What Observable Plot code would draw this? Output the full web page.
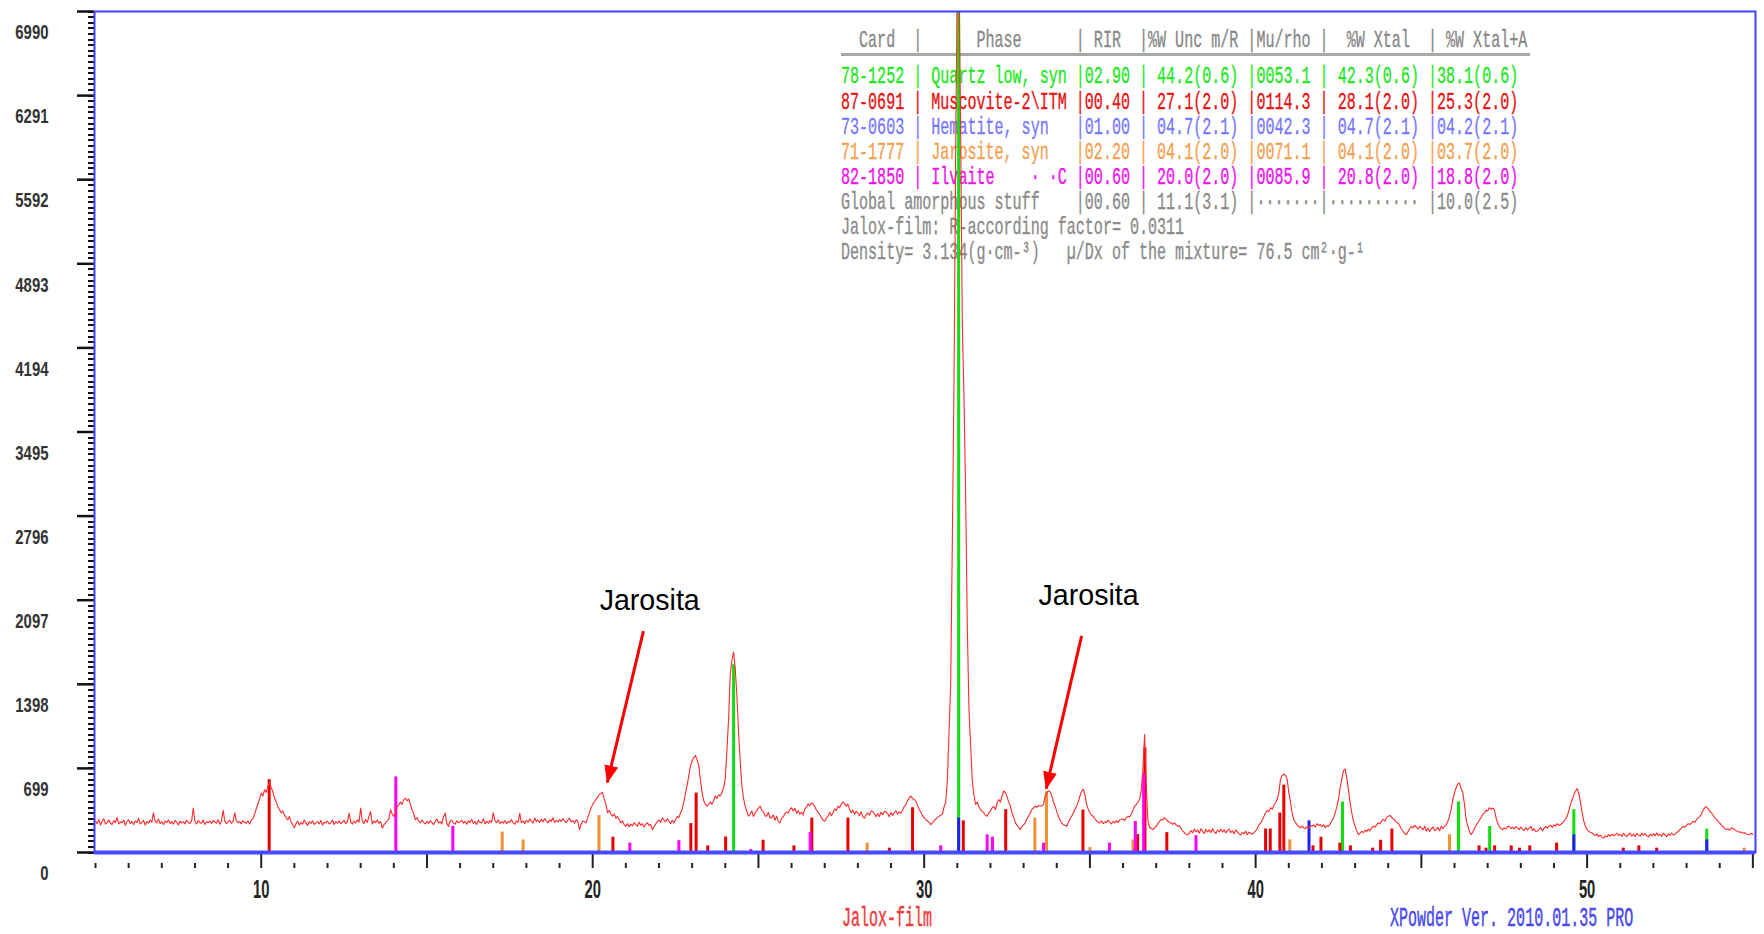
<!DOCTYPE html>
<html><head><meta charset="utf-8">
<script src="https://cdn.jsdelivr.net/npm/d3@7"></script>
<script src="https://cdn.jsdelivr.net/npm/@observablehq/plot@0.6"></script>
<style>
html,body{margin:0;padding:0;background:#fff;}
#wrap{position:relative;width:1764px;height:934px;overflow:hidden;background:#fff;}
.row{position:absolute;left:841px;white-space:pre;font-family:"Liberation Mono",monospace;font-size:24px;line-height:25px;height:25px;transform:scaleX(0.627);transform-origin:0 0;-webkit-text-stroke:0.35px currentColor;}
#rule{position:absolute;left:841px;top:53px;width:689px;height:3px;background:#a8a8a8;}
.foot{position:absolute;white-space:pre;font-family:"Liberation Mono",monospace;font-size:27px;line-height:30px;height:30px;transform:scaleX(0.556);transform-origin:0 0;-webkit-text-stroke:0.5px currentColor;}
#chart{position:absolute;left:0;top:0;}
</style></head>
<body><div id="wrap"></div>
<script>
// ---------- data ----------
// measured pattern: 2theta start/step of the scan and the counts read off the picture
const twoThetaStart = 5.0;
const twoThetaStep = 0.05;
const counts = [
// 5
262,240,275,228,258,281,236,250,270,245,232,265,248,290,238,255,247,268,226,259,
// 6
272,241,256,233,262,249,284,237,251,266,229,258,244,270,252,330,261,247,279,240,
// 7
255,233,262,248,271,240,258,236,266,252,229,261,244,257,238,268,250,241,263,370,
// 8
258,237,265,250,243,270,232,256,248,261,239,266,252,244,273,235,258,350,262,240,
// 9
255,268,243,258,330,262,247,259,238,265,250,244,261,236,270,282,318,362,405,445,
// 10
493,470,521,500,549,585,540,505,450,424,380,355,330,345,313,290,272,300,255,230,
// 11
205,240,262,228,250,236,270,244,226,258,241,264,232,249,255,238,267,229,252,246,
// 12
260,237,248,271,233,256,244,262,239,253,268,241,255,327,250,236,262,245,271,252,
// 13
369,262,240,275,250,300,340,236,264,248,270,243,258,202,230,246,262,280,355,320,
// 14
300,330,380,396,420,400,440,452,430,445,400,355,320,272,290,262,245,270,250,238,
// 15
258,242,266,249,231,260,277,245,256,238,300,327,240,216,262,268,245,236,263,248,
// 16
255,270,243,258,236,264,249,275,241,257,233,268,252,246,279,238,260,244,265,251,
// 17
330,262,248,271,240,256,244,266,238,259,250,273,246,235,261,252,325,247,263,240,
// 18
268,252,279,261,244,286,258,270,249,276,255,283,262,246,273,259,288,250,267,255,
// 19
274,258,281,262,247,270,285,254,266,243,272,259,190,235,262,255,246,290,330,370,
// 20
400,420,442,460,484,490,498,442,400,330,350,320,302,320,285,300,274,246,262,230,
// 21
218,240,213,236,222,248,230,218,252,226,240,211,235,247,224,232,190,214,236,258,
// 22
270,250,288,270,255,280,262,240,268,246,275,300,290,330,360,420,498,560,640,722,
// 23
760,790,806,770,722,600,498,430,400,386,400,420,400,430,470,450,480,470,498,540,
// 24
610,850,1114,1478,1600,1665,1530,1300,1002,760,554,450,386,340,302,320,345,300,330,350,
// 25
370,386,352,340,306,302,334,286,290,312,268,302,258,246,284,298,324,336,330,358,
// 26
372,345,368,326,348,318,336,312,362,378,404,388,414,402,382,352,336,314,292,268,
// 27
260,288,302,334,306,330,362,348,386,372,402,420,406,384,402,358,330,352,318,342,
// 28
330,306,338,298,286,314,330,310,348,340,322,298,324,300,334,314,342,338,322,298,
// 29
332,308,334,346,318,338,326,352,384,398,432,454,470,446,442,426,392,358,334,306,
// 30
290,272,262,248,232,246,264,278,292,300,312,318,380,420,600,1000,1400,2600,3900,5800,
// 31
7300,7300,6000,4400,3800,3000,1900,1200,900,600,480,400,420,380,358,340,330,310,302,330,
// 32
345,372,384,356,412,440,418,472,512,498,462,418,388,328,292,248,228,212,190,216,
// 33
230,246,280,300,330,358,370,386,376,390,384,388,400,470,498,512,505,470,420,386,
// 34
340,300,270,246,230,225,218,250,280,302,330,360,386,420,470,510,526,480,400,360,
// 35
330,310,302,280,265,250,246,262,240,255,248,270,250,238,258,246,265,250,272,274,
// 36
280,265,290,302,295,320,350,386,400,420,442,520,700,980,560,260,210,200,190,205,
// 37
218,240,260,275,270,288,275,262,250,246,235,246,230,218,225,200,180,165,150,148,
// 38
160,182,164,195,172,186,160,198,176,158,194,170,188,164,198,172,158,186,172,194,
// 39
170,188,162,184,194,166,180,156,188,172,154,146,168,154,178,148,170,158,152,166,
// 40
180,200,230,246,270,300,330,350,340,372,360,390,414,440,498,610,640,652,640,610,
// 41
500,420,330,274,250,230,218,205,220,204,198,215,205,225,218,230,210,240,225,232,
// 42
215,230,205,225,218,240,262,288,330,380,442,540,610,680,694,620,520,414,330,260,
// 43
218,180,148,160,175,165,185,176,195,180,205,218,210,232,245,238,260,275,262,290,
// 44
300,308,295,280,270,250,246,220,195,175,155,148,175,200,218,205,225,210,195,218,
// 45
204,188,218,178,202,174,198,212,182,192,208,180,218,198,218,230,260,302,360,440,
// 46
498,540,570,577,530,498,400,274,220,175,148,170,200,225,246,270,290,316,330,350,
// 47
345,372,360,370,358,290,246,215,200,190,205,195,215,218,200,210,195,215,205,190,
// 48
212,194,182,208,188,202,218,182,198,174,178,192,208,180,202,218,202,220,226,208,
// 49
230,218,240,225,232,245,260,280,302,350,400,442,480,510,532,490,414,330,260,218,
// 50
190,175,168,162,150,140,155,132,145,125,120,138,130,148,135,152,140,148,160,142,
// 51
152,134,160,142,132,150,162,136,154,132,158,146,136,162,142,158,138,130,152,140,
// 52
157,138,162,142,152,134,160,146,132,154,143,162,146,152,165,175,190,205,218,210,
// 53
225,240,232,246,260,250,275,288,300,320,350,372,381,360,345,330,310,290,275,260,
// 54
245,230,215,200,190,198,185,205,200,190,180,175,168,170,160,165,155,150,148,160,
// 55
150
];

// reference patterns (stick positions in 2theta, stick heights in counts)
const quartz2Theta = [24.25, 31.04, 42.62, 46.12, 47.06, 49.6, 53.61];
const quartzCounts = [1560, 7200, 420, 420, 216, 356, 194];
const muscovite2Theta = [10.24, 20.61, 22.96, 23.12, 23.47, 24.01, 25.14, 26.07, 26.61, 27.7, 28.95, 29.65, 31.18, 32.46, 34.79, 36.44, 36.66, 37.32, 40.3, 40.44, 40.73, 40.85, 41.73, 41.97, 42.54, 42.86, 43.53, 43.77, 44.11, 46.74, 46.95, 47.21, 47.71, 47.96, 48.27, 49.08, 51.09, 51.56, 52.1];
const muscoviteCounts = [605, 127, 240, 494, 55, 129, 102, 55, 286, 286, 36, 372, 263, 356, 353, 150, 870, 165, 195, 195, 328, 560, 55, 127, 78, 55, 36, 102, 195, 55, 36, 55, 55, 36, 55, 78, 36, 55, 36];
const jarosite2Theta = [17.27, 17.9, 20.19, 28.28, 33.34, 33.69, 35.0, 36.3, 41.03, 45.85, 54.74];
const jarositeCounts = [170, 104, 306, 78, 286, 504, 40, 104, 105, 147, 36];
const ilvaite2Theta = [14.06, 15.78, 21.12, 22.6, 24.77, 26.56, 30.5, 31.9, 32.06, 33.6, 35.59, 36.37, 36.62, 38.2];
const ilvaiteCounts = [628, 217, 78, 98, 25, 165, 56, 147, 128, 78, 78, 258, 655, 140];
const hematite2Theta = [31.04, 41.61, 49.6, 53.61];
const hematiteCounts = [286, 263, 147, 105];

// axis ticks
const xDomain = [4.97, 55.08];
const yDomain = [0, 6990];
const yTickValues = [0, 699, 1398, 2097, 2796, 3495, 4194, 4893, 5592, 6291, 6990];
const xTickLabels = [10, 20, 30, 40, 50];
const xMajorTicks = [10, 15, 20, 25, 30, 35, 40, 45, 50, 55];

// annotations
const noteText = ["Jarosita", "Jarosita"];
const note2Theta = [21.72, 34.96];
const noteCounts = [2094, 2136];
const arrowFrom2Theta = [21.53, 34.75];
const arrowFromCounts = [1840, 1800];
const arrowTo2Theta = [20.44, 33.68];
const arrowToCounts = [582, 530];

// quantitative table
const tableHeader = "  Card  |      Phase      | RIR  |%W Unc m/R |Mu/rho |  %W Xtal  | %W Xtal+A";
const tableRows = [
  "78-1252 | Quartz low, syn |02.90 | 44.2(0.6) |0053.1 | 42.3(0.6) |38.1(0.6)",
  "87-0691 | Muscovite-2\\ITM |00.40 | 27.1(2.0) |0114.3 | 28.1(2.0) |25.3(2.0)",
  "73-0603 | Hematite, syn   |01.00 | 04.7(2.1) |0042.3 | 04.7(2.1) |04.2(2.1)",
  "71-1777 | Jarosite, syn   |02.20 | 04.1(2.0) |0071.1 | 04.1(2.0) |03.7(2.0)",
  "82-1850 | Ilvaite    \u00b7 \u00b7C |00.60 | 20.0(2.0) |0085.9 | 20.8(2.0) |18.8(2.0)",
  "Global amorphous stuff    |00.60 | 11.1(3.1) |\u00b7\u00b7\u00b7\u00b7\u00b7\u00b7\u00b7|\u00b7\u00b7\u00b7\u00b7\u00b7\u00b7\u00b7\u00b7\u00b7\u00b7 |10.0(2.5)",
  "Jalox-film: R-according factor= 0.0311",
  "Density= 3.134(g\u00b7cm-\u00b3)   \u00b5/Dx of the mixture= 76.5 cm\u00b2\u00b7g-\u00b9"
];
const tableColors = ["#22e822", "#e81010", "#7878ff", "#f4a050", "#f010f0", "#8a8a8a", "#8a8a8a", "#8a8a8a"];
const sampleName = "Jalox-film";
const softwareName = "XPowder Ver. 2010.01.35 PRO";

// ---------- build ----------
const wrap = document.getElementById("wrap");

// table (behind the plot so that the peak lines run over it)
const head = document.createElement("div");
head.className = "row"; head.textContent = tableHeader;
head.style.top = "28.4px"; head.style.color = "#888";
wrap.appendChild(head);
const rule = document.createElement("div"); rule.id = "rule"; wrap.appendChild(rule);
tableRows.forEach((r, i) => {
  const d = document.createElement("div");
  d.className = "row"; d.textContent = r;
  d.style.top = (64.4 + i * 25.1) + "px";
  d.style.color = tableColors[i];
  wrap.appendChild(d);
});
const f1 = document.createElement("div");
f1.className = "foot"; f1.textContent = sampleName;
f1.style.left = "841.5px"; f1.style.top = "903.7px"; f1.style.color = "#f03c3c";
wrap.appendChild(f1);
const f2 = document.createElement("div");
f2.className = "foot"; f2.textContent = softwareName;
f2.style.left = "1390px"; f2.style.top = "903.7px"; f2.style.color = "#4848f0";
wrap.appendChild(f2);

const trace = counts.map((c, i) => ({x: twoThetaStart + i * twoThetaStep, y: c}));
const pairs = (p, c) => p.map((v, i) => ({x: v, y: c[i]}));
const sticks = (p, c, color) => Plot.ruleX(pairs(p, c), {x: "x", y1: 0, y2: "y", stroke: color, strokeWidth: 3, clip: true});

const W = 1764, H = 934, mL = 94, mR = 9, mT = 11, mB = 82;
const minorLen = (xDomain[1] - xDomain[0]) * 6 / (W - mL - mR); // 6px comb, in 2theta units
const yMinorTicks = d3.range(0, 6990.5, 699 / 15);
const xMinorTicks = d3.range(5, 55).filter(d => d === 5 || d % 5 !== 0);

const arrows = arrowFrom2Theta.map((v, i) => ({x1: v, y1: arrowFromCounts[i], x2: arrowTo2Theta[i], y2: arrowToCounts[i]}));
const notes = noteText.map((t, i) => ({text: t, x: note2Theta[i], y: noteCounts[i]}));

const chart = Plot.plot({
  width: W, height: H,
  marginLeft: mL, marginRight: mR, marginTop: mT, marginBottom: mB,
  style: {background: "transparent", fontFamily: "Liberation Sans, Arial, sans-serif", overflow: "visible"},
  x: {domain: xDomain},
  y: {domain: yDomain},
  marks: [
    // minor y ticks: short comb just left of the frame
    Plot.ruleY(yMinorTicks, {y: d => d, x1: xDomain[0] - minorLen, x2: xDomain[0], stroke: "#111", strokeWidth: 2}),
    // major y ticks
    Plot.axisY(yTickValues, {tickSize: 17, tickFormat: () => "", stroke: "#111", strokeWidth: 2.5}),
    // y labels sit a little below their ticks
    Plot.axisY(yTickValues, {tickSize: 0, tickPadding: 46, dy: 21, fontSize: 21, fontWeight: "bold", fill: "#333", stroke: "none", tickFormat: d => `${d}`}),
    Plot.axisX(xMinorTicks, {tickSize: 5, dy: 11, tickFormat: () => "", stroke: "#222", strokeWidth: 2}),
    Plot.axisX(xMajorTicks, {tickSize: 16, tickPadding: 12, fontSize: 25, fontWeight: "bold", color: "#222", strokeWidth: 2, tickFormat: d => xTickLabels.includes(d) ? `${d}` : ""}),
    sticks(quartz2Theta, quartzCounts, "#11dd11"),
    sticks(muscovite2Theta, muscoviteCounts, "#e80000"),
    sticks(jarosite2Theta, jarositeCounts, "#f09030"),
    sticks(ilvaite2Theta, ilvaiteCounts, "#ff00ff"),
    sticks(hematite2Theta, hematiteCounts, "#2020f0"),
    Plot.line(trace, {x: "x", y: "y", stroke: "#ff2a2a", strokeWidth: 1.1, clip: true}),
    Plot.frame({stroke: "#4040ff", strokeWidth: 2}),
    Plot.ruleY([0], {stroke: "#4848ff", strokeWidth: 4}),
    Plot.link(arrows, {x1: "x1", y1: "y1", x2: "x2", y2: "y2", stroke: "#ff0000", strokeWidth: 3}),
    Plot.text(notes, {x: "x", y: "y", text: "text", fontSize: 28.6, fill: "#000"})
  ]
});
chart.id = "chart";
wrap.appendChild(chart);

// condensed tick labels, crisp comb and filled arrow heads
const svg = d3.select(chart);
svg.select('g[aria-label="rule"]').attr("shape-rendering", "crispEdges");
svg.selectAll('g[aria-label="y-axis tick label"] text').each(function () {
  const t = this.textContent;
  if (t) { this.setAttribute("textLength", t.length * 8.3); this.setAttribute("lengthAdjust", "spacingAndGlyphs"); }
});
svg.selectAll('g[aria-label="x-axis tick label"] text').each(function () {
  const t = this.textContent;
  if (t) { this.setAttribute("textLength", t.length * 8.2); this.setAttribute("lengthAdjust", "spacingAndGlyphs"); }
});
const defs = svg.insert("defs", ":first-child");
defs.append("marker").attr("id", "ahead").attr("markerUnits", "userSpaceOnUse")
  .attr("viewBox", "0 0 18 14").attr("markerWidth", 18).attr("markerHeight", 14)
  .attr("refX", 17).attr("refY", 7).attr("orient", "auto")
  .append("path").attr("d", "M0,0L18,7L0,14Z").attr("fill", "#ff0000");
svg.selectAll('g[aria-label="link"] path').attr("marker-end", "url(#ahead)");
</script>
</body></html>
